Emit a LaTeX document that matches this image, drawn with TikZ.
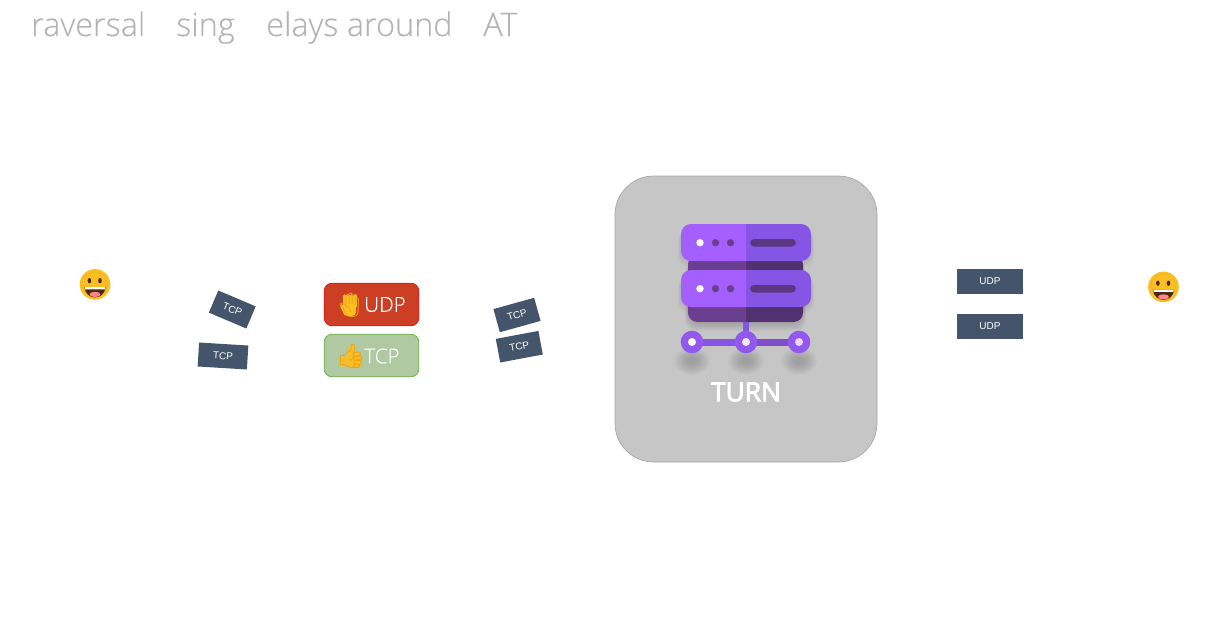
\documentclass[tikz,border=0pt]{standalone}
\usepackage{fontspec}
\setmainfont{Liberation Sans}
\newfontfamily\titlefont[UprightFont=* Light, FakeBold=0.25]{Open Sans}
\newfontfamily\badgefont[UprightFont=* Light, FakeBold=0.2]{Open Sans}
\newfontfamily\turnfont[FakeBold=3]{Open Sans}
\newfontfamily\emojifont{Noto Emoji}
\usetikzlibrary{positioning}
\definecolor{packetblue}{HTML}{44546A}
\definecolor{boxgray}{HTML}{C6C6C6}
\definecolor{titlegray}{HTML}{B4B4B4}
\definecolor{purplelight}{HTML}{A55FFF}
\definecolor{purpledark}{HTML}{8655E5}
\definecolor{bodylight}{HTML}{6B3F90}
\definecolor{bodydark}{HTML}{53306F}
\definecolor{emojiyellow}{HTML}{FBBF24}
\definecolor{emojirim}{HTML}{EFA215}
\definecolor{mouthdark}{HTML}{4A2A12}
\tikzset{
    titletext/.style={anchor=base west, inner sep=0pt, text=titlegray, font=\titlefont\fontsize{24.3}{24}\selectfont},
    packet/.style={fill=packetblue, text=white, minimum width=33pt, minimum height=18pt, inner sep=0pt, font=\fontsize{7.5}{8}\selectfont},
    badge/.style={rounded corners=6pt, line width=0.6pt, minimum width=71pt, minimum height=32pt, inner sep=0pt},
    badgetext/.style={anchor=west, inner sep=0pt, text=white, font=\badgefont\fontsize{15.5}{18}\selectfont},
    handglyph/.style={inner sep=0pt, text=emojirim, font=\emojifont\fontsize{18}{18}\selectfont},
    face/.style={circle, fill=emojiyellow, minimum size=23pt, inner sep=0pt},
    faceglyph/.style={inner sep=0pt, text=emojirim, font=\emojifont\fontsize{19}{19}\selectfont},
}
\begin{document}
\begin{tikzpicture}[x=0.75pt, y=-0.75pt]
    \useasboundingbox (0,0) rectangle (1225,632);

    % Title fragments
    \node [titletext] (titlea) at (31,36) {raversal};
    \node [titletext] (titleb) at (176,36) {sing};
    \node [titletext] (titlec) at (266,36) {elays around};
    \node [titletext] (titled) at (483,36) {AT};

    % Peers
    \foreach \peer/\px/\py in {leftpeer/95/284.4,rightpeer/1163.5/286.9} {
        \node [face] (\peer) at (\px,\py) {};
        \node [faceglyph, opacity=0.35] (\peer glyph) at (\px,\py) {😀};
        \fill [mouthdark] (\px-10.7,\py+2.6) .. controls (\px-9,\py+16.5) and (\px+9,\py+16.5) .. (\px+10.7,\py+2.6) -- cycle;
        \fill [white] (\px-10.2,\py+2.6) -- (\px+10.2,\py+2.6) -- (\px+9.8,\py+5) -- (\px-9.8,\py+5) -- cycle;
        \fill [pink!70!red] (\px,\py+10) ellipse [x radius=5.5, y radius=2.6];
        \fill [mouthdark] (\px-5.6,\py-3.7) ellipse [x radius=1.8, y radius=2.7];
        \fill [mouthdark] (\px+5,\py-3.7) ellipse [x radius=1.8, y radius=2.7];
    }

    % Packets on the left
    \node [packet, rotate=-23, minimum width=30.5pt] (tcpa) at (232.3,309.5) {TCP};
    \node [packet, rotate=-3.5, minimum width=37pt] (tcpb) at (223,356) {TCP};

    % Firewall rules
    \node [badge, draw={rgb,255:red,232;green,20;blue,26}, fill={rgb,255:red,204;green,63;blue,36}] (udprule) at (371.5,304.5) {};
    \node [badge, draw={rgb,255:red,111;green,174;blue,74}, fill={rgb,255:red,177;green,201;blue,162}] (tcprule) at (371.5,355.5) {};
    \node [badgetext] (udptext) at (364,304.5) {UDP};
    \node [badgetext] (tcptext) at (364,356) {TCP};

    % Hand
    \fill [emojiyellow, rounded corners=3pt] (343,303) rectangle (356,316);
    \foreach \fx in {344.5,348,351.5,354.8}
        \draw [emojiyellow, line width=2.7pt, line cap=round] (\fx,296) -- (\fx,306);
    \draw [emojiyellow, line width=2.7pt, line cap=round] (342,306) -- (345,312);
    \node [handglyph, xscale=-1] (stophand) at (349.5,305) {✋};

    % Thumb
    \fill [emojiyellow, rounded corners=3pt] (346,354) rectangle (362,367);
    \fill [emojiyellow, rounded corners=1pt] (340,356) rectangle (345,367);
    \draw [emojiyellow, line width=4pt, line cap=round] (349,356) -- (352,347);
    \node [handglyph] (thumbup) at (351,356) {👍};

    % Packets past the rules
    \node [packet, rotate=15.5, minimum width=31.7pt] (tcpc) at (517,315) {TCP};
    \node [packet, rotate=10.6, minimum width=32.5pt] (tcpd) at (519.3,346.7) {TCP};

    % TURN box
    \draw [fill=boxgray, draw=black!35, line width=0.5pt, rounded corners=29pt] (615,176) rectangle (877,462);

    % Soft shadows
    \foreach \fx in {692,746,799}
        \foreach \fr in {17,15,13,11,9,7,5}
            \fill [black, opacity=0.028] (\fx,361) ellipse [x radius=\fr*1.05, y radius=\fr*0.8];
    \foreach \fr in {0,1,2,3}
        \fill [black, opacity=0.04, rounded corners=8pt] (688-\fr,262) rectangle (803+\fr,325+\fr*2);
    \foreach \by in {224,270}
        \foreach \fr in {1,2,3}
            \fill [black, opacity=0.03, rounded corners=8pt] (681-\fr,\by+6) rectangle (811+\fr,\by+37+\fr*2);

    % Server body
    \begin{scope}
        \clip (680,255) rectangle (746,330);
        \fill [bodylight, rounded corners=7pt] (688,255) rectangle (803,322);
    \end{scope}
    \begin{scope}
        \clip (746,255) rectangle (810,330);
        \fill [bodydark, rounded corners=7pt] (688,255) rectangle (803,322);
    \end{scope}

    % Server bars
    \foreach \by in {224,270} {
        \begin{scope}
            \clip (675,\by-2) rectangle (746,\by+40);
            \fill [purplelight, rounded corners=7.5pt] (681,\by) rectangle (811,\by+37);
        \end{scope}
        \begin{scope}
            \clip (746,\by-2) rectangle (815,\by+40);
            \fill [purpledark, rounded corners=7.5pt] (681,\by) rectangle (811,\by+37);
        \end{scope}
        \fill [white] (700,\by+18.7) circle [radius=3.7];
        \fill [bodylight] (715.5,\by+18.7) circle [radius=3.7];
        \fill [bodylight] (730.5,\by+18.7) circle [radius=3.7];
        \fill [bodydark!85!purpledark, rounded corners=3pt] (750,\by+15) rectangle (796,\by+22.5);
    }

    % Network feet
    \fill [purpledark] (743,322) rectangle (749,340);
    \fill [purpledark] (692,338.5) rectangle (746,345.5);
    \fill [purpledark!70!bodylight] (746,338.5) rectangle (799,345.5);
    \foreach \fx/\fc in {692/white,746/white!85!purplelight,799/white!75!purplelight} {
        \fill [purpledark!60!purplelight] (\fx,342) circle [radius=11.3];
        \fill [\fc] (\fx,342) circle [radius=4];
    }

    % Label
    \node [text=white, inner sep=0pt, font=\turnfont\fontsize{19.8}{20}\selectfont] (turnlabel) at (746,392) {TURN};

    % Packets on the right
    \node [packet, minimum width=49.5pt, minimum height=18.75pt] (udpa) at (990,281.3) {UDP};
    \node [packet, minimum width=49.5pt, minimum height=18.75pt] (udpb) at (990,326.5) {UDP};
\end{tikzpicture}
\end{document}
